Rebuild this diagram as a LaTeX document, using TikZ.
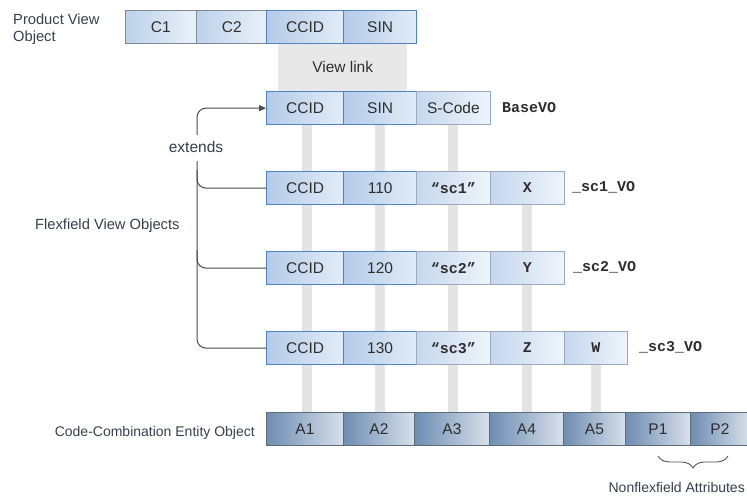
\documentclass[tikz,border=0pt]{standalone}
\usepackage{fontspec}
\setmainfont{Liberation Sans}
\setmonofont{Liberation Mono}
\usetikzlibrary{arrows.meta,decorations.pathreplacing,calc}
\pgfdeclarelayer{background}
\pgfsetlayers{background,main}
\definecolor{txt}{HTML}{2E2E2E}
\definecolor{labc}{HTML}{36404C}
\definecolor{p1}{HTML}{BDD1EB}
\definecolor{p2}{HTML}{EAF1F9}
\definecolor{k1}{HTML}{B4CBE8}
\definecolor{k2}{HTML}{E2ECF7}
\definecolor{f1}{HTML}{C6D7EE}
\definecolor{f2}{HTML}{EEF4FB}
\definecolor{e1}{HTML}{6D8DB2}
\definecolor{e2}{HTML}{D8E0EA}
\definecolor{grayb}{HTML}{7E8A96}
\definecolor{blueb}{HTML}{4E84C6}
\definecolor{flexb}{HTML}{98AAC0}
\definecolor{entb}{HTML}{5F6B78}
\definecolor{bandc}{HTML}{E4E4E4}
\definecolor{vlc}{HTML}{E8E8E8}
\definecolor{connc}{HTML}{4A4A4A}
\tikzset{
  base/.style={font=\fontsize{15.5}{18}\selectfont, text=txt},
  cell/.style={base, rectangle, anchor=north west, minimum height=33pt, inner sep=0pt, line width=0.8pt},
  pale/.style={cell, left color=p1, right color=p2, draw=grayb},
  keycell/.style={cell, left color=k1, right color=k2, draw=blueb, line width=1.3pt},
  flex/.style={cell, left color=f1, right color=f2, draw=flexb},
  ent/.style={cell, left color=e1, right color=e2, draw=entb},
  mono/.style={font=\fontsize{15}{18}\selectfont\ttfamily\bfseries, text=txt},
  lab/.style={font=\fontsize{14.7}{17}\selectfont, text=labc, inner sep=0pt},
  band/.style={draw=bandc, line width=10pt},
  conn/.style={draw=connc, line width=1pt, rounded corners=9pt},
}
\begin{document}
\begin{tikzpicture}[x=1pt,y=-1pt]
\useasboundingbox (0,0) rectangle (747,498);

% labels on the left
\node[lab, align=left, anchor=north west] (pvo) at (13,14) {Product View\\Object};
\node[lab, anchor=west] (ffvo) at (35,226) {Flexfield View Objects};
\node[lab, anchor=east, font=\fontsize{14}{17}\selectfont] (ccent) at (255,433) {Code-Combination Entity Object};

% top row
\node[pale, minimum width=71pt] (c1) at (125,10) {C1};
\node[pale, minimum width=71pt] (c2) at (196,10) {C2};
\node[keycell, minimum width=77pt] (r0c1) at (266,10) {CCID};
\node[keycell, minimum width=73pt] (r0c2) at (343,10) {SIN};

% view link
\node[fill=vlc, minimum width=129pt, minimum height=47pt, inner sep=0pt, anchor=north west, base] (vl) at (278,43.5) {View link};

% BaseVO
\node[keycell, minimum width=77pt] (r1c1) at (266,91) {CCID};
\node[keycell, minimum width=73pt] (r1c2) at (343,91) {SIN};
\node[flex, minimum width=74pt] (r1c3) at (416,91) {S-Code};
\node[mono, anchor=west, inner sep=0pt] (bvo) at (502,107.5) {BaseVO};

% sc1
\node[keycell, minimum width=77pt] (r2c1) at (266,171) {CCID};
\node[keycell, minimum width=73pt] (r2c2) at (343,171) {110};
\node[flex, minimum width=74pt, mono] (r2c3) at (416,171) {“sc1”};
\node[flex, minimum width=74pt, mono] (r2c4) at (490,171) {X};
\node[mono, anchor=west, inner sep=0pt] (v1) at (572,187.5) {\_sc1\_VO};

% sc2
\node[keycell, minimum width=77pt] (r3c1) at (266,251) {CCID};
\node[keycell, minimum width=73pt] (r3c2) at (343,251) {120};
\node[flex, minimum width=74pt, mono] (r3c3) at (416,251) {“sc2”};
\node[flex, minimum width=74pt, mono] (r3c4) at (490,251) {Y};
\node[mono, anchor=west, inner sep=0pt] (v2) at (573,267.5) {\_sc2\_VO};

% sc3
\node[keycell, minimum width=77pt] (r4c1) at (266,331) {CCID};
\node[keycell, minimum width=73pt] (r4c2) at (343,331) {130};
\node[flex, minimum width=74pt, mono] (r4c3) at (416,331) {“sc3”};
\node[flex, minimum width=74pt, mono] (r4c4) at (490,331) {Z};
\node[flex, minimum width=63pt, mono] (r4c5) at (564,331) {W};
\node[mono, anchor=west, inner sep=0pt] (v3) at (639,347.5) {\_sc3\_VO};

% entity object
\node[ent, minimum width=77pt] (a1) at (266,412) {A1};
\node[ent, minimum width=71pt] (a2) at (343,412) {A2};
\node[ent, minimum width=75pt] (a3) at (414,412) {A3};
\node[ent, minimum width=74pt] (a4) at (489,412) {A4};
\node[ent, minimum width=62pt] (a5) at (563,412) {A5};
\node[ent, minimum width=65pt] (p1) at (625,412) {P1};
\node[ent, minimum width=59pt] (p2) at (690,412) {P2};

% bands
\begin{pgfonlayer}{background}
\draw[band] ([xshift=2pt]r1c1.south) -- ([xshift=2pt]r1c1.south |- a1.north);
\draw[band] (r1c2.south) -- (r1c2.south |- a2.north);
\draw[band] (r1c3.south) -- (r1c3.south |- a3.north);
\draw[band] (r2c4.south) -- (r2c4.south |- a4.north);
\draw[band] (r4c5.south) -- (r4c5.south |- a5.north);
\end{pgfonlayer}

% extends connectors
\node[lab, font=\fontsize{15.5}{18}\selectfont] (ext) at (196,147) {extends};
\coordinate (e1) at (197,135);
\coordinate (e2) at (197,161);
\coordinate (b2) at (197,170);
\coordinate (b3) at (197,250);
\draw[conn, -{Triangle[length=7pt,width=6pt]}] (e1) |- (r1c1.west);
\draw[conn] (e2) |- (r4c1.west);
\draw[conn] (b2) |- (r2c1.west);
\draw[conn] (b3) |- (r3c1.west);

% brace
\coordinate (br1) at (658,456);
\coordinate (br2) at (728,456);
\draw[connc, line width=0.8pt, decorate, decoration={brace, amplitude=12pt, mirror}] (br1) -- (br2);
\node[lab, anchor=east, font=\fontsize{14}{17}\selectfont] (nfa) at (745,487) {Nonflexfield Attributes};
\end{tikzpicture}
\end{document}
